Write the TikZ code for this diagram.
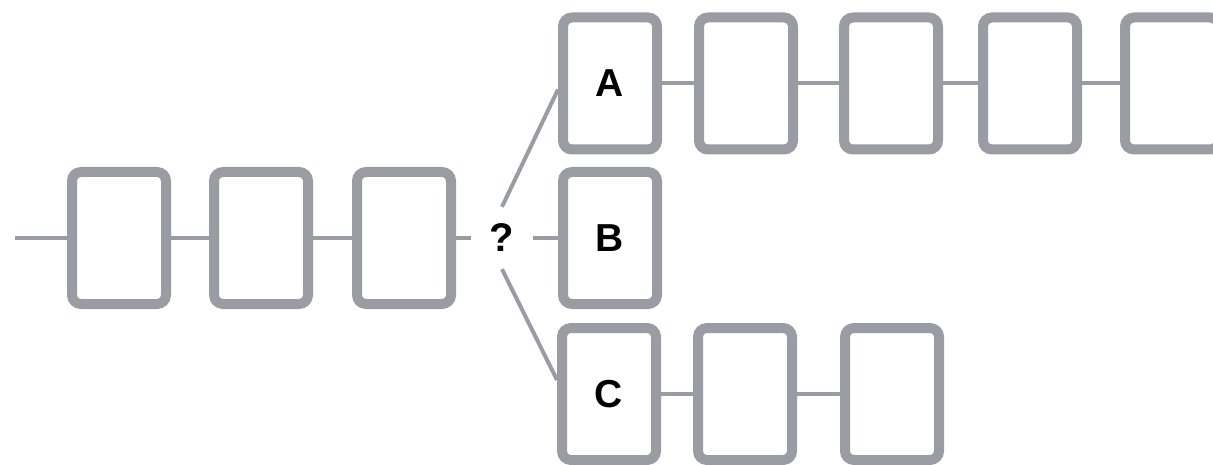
\documentclass[tikz,border=0pt]{standalone}
\usepackage{fontspec}
\setmainfont{Liberation Sans}
\definecolor{boxgray}{RGB}{154,156,164}
\begin{document}
\begin{tikzpicture}[x=1pt,y=-1pt,
  frame/.style={draw=boxgray, line width=10pt, rounded corners=9pt,
    minimum width=94pt, minimum height=132pt, inner sep=0pt, fill=white,
    font=\fontsize{39}{39}\selectfont\bfseries},
  link/.style={draw=boxgray, line width=4pt},
]
\useasboundingbox (0,0) rectangle (1213,465);
\clip (0,0) rectangle (1213,465);

% incoming chain
\coordinate (in) at (15,238);
\node[frame] (m1) at (119,238) {};
\node[frame] (m2) at (261,238) {};
\node[frame] (m3) at (404,238) {};

% the fork
\node[circle, minimum size=62pt, inner sep=0pt,
      font=\fontsize{40}{40}\selectfont\bfseries] (q) at (502,238) {?};

% branch A
\node[frame] (a1) at (610,83.5) {A};
\node[frame] (a2) at (746,83.5) {};
\node[frame] (a3) at (891,83.5) {};
\node[frame] (a4) at (1030,83.5) {};
\node[frame] (a5) at (1172,83.5) {};

% branch B
\node[frame] (b1) at (610,238) {B};

% branch C
\node[frame] (c1) at (609,394) {C};
\node[frame] (c2) at (745,394) {};
\node[frame] (c3) at (892,394) {};

% connectors
\draw[link] (in) -- (m1.west);
\draw[link] (m1.east) -- (m2.west);
\draw[link] (m2.east) -- (m3.west);
\draw[link] (m3.east) -- (q.west);
\draw[link] (q.east) -- (b1.west);
\draw[link] (q.north) -- ([yshift=-6pt]a1.west);
\draw[link] (q.south) -- ([yshift=14pt]c1.west);
\draw[link] (a1.east) -- (a2.west);
\draw[link] (a2.east) -- (a3.west);
\draw[link] (a3.east) -- (a4.west);
\draw[link] (a4.east) -- (a5.west);
\draw[link] (c1.east) -- (c2.west);
\draw[link] (c2.east) -- (c3.west);
\end{tikzpicture}
\end{document}
